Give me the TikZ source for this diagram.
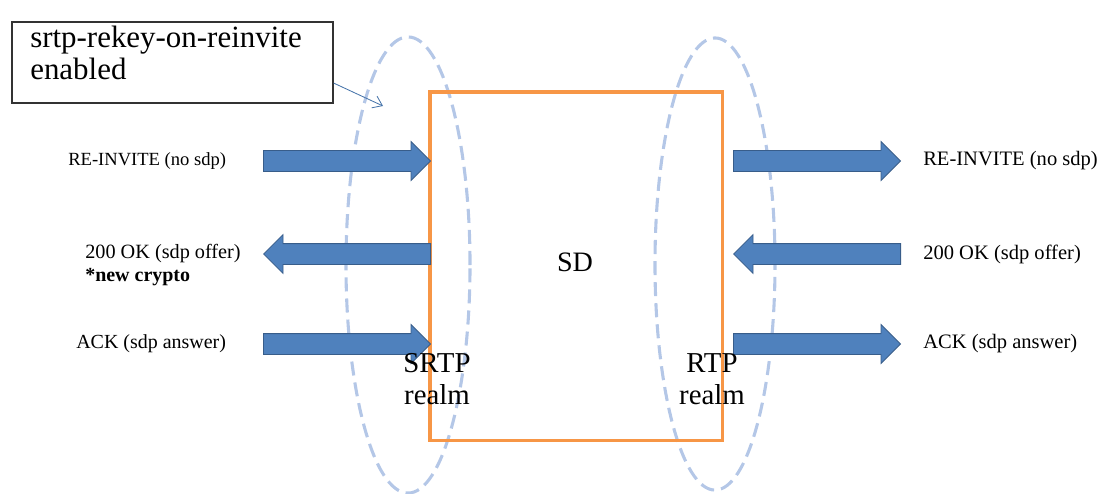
\documentclass[tikz,border=0pt]{standalone}
\usepackage{fontspec}
\setmainfont{Liberation Serif}
\usetikzlibrary{shapes.arrows,arrows.meta,calc}
\definecolor{realmblue}{RGB}{180,199,231}
\definecolor{sdorange}{RGB}{247,150,70}
\definecolor{msgfill}{RGB}{79,129,189}
\definecolor{msgedge}{RGB}{56,93,138}
\tikzset{
  msg/.style={single arrow,fill=msgfill,draw=msgedge,line width=0.6pt,
    inner xsep=0pt,inner ysep=0.25cm,text height=0pt,text depth=0pt,
    single arrow head extend=0.225cm,single arrow tip angle=90,minimum height=4.175cm},
  msgright/.style={msg,anchor=tail},
  msgleft/.style={msg,shape border rotate=180,anchor=tip},
  msglabel/.style={anchor=west,inner sep=0pt},
  realm/.style={draw=realmblue,line width=2.2pt,dash pattern=on 10pt off 5pt},
  realmlabel/.style={align=center,font=\fontsize{20.5}{23}\selectfont,inner sep=0pt}
}
\begin{document}
\begin{tikzpicture}[x=0.025cm,y=-0.025cm]
  \useasboundingbox (0,0) rectangle (1104,493);
  % realms
  \draw[realm] (408,265) ellipse (1.55cm and 5.7cm);
  \draw[realm] (715,264) ellipse (1.5cm and 5.65cm);
  % the SD box
  \node[draw=sdorange,line width=2.2pt,minimum width=7.3cm,minimum height=8.7cm] (sd) at (576,266) {};
  \node[font=\fontsize{20}{24}\selectfont] (sdtxt) at (575,262) {SD};
  % note
  \node[draw=black!80,line width=0.9pt,minimum width=8.025cm,minimum height=2.025cm] (note) at (172.5,62.5) {};
  \node[anchor=north west,align=left,inner sep=0pt,font=\fontsize{22}{22.5}\selectfont] (notetxt) at (30,26)
    {srtp-rekey-on-reinvite\\enabled};
  \coordinate (notetip) at (383,106);
  \draw[msgfill!90!black,line width=0.6pt,-{Straight Barb[length=2.2mm,width=3.2mm]}]
    ($(note.south east)!0.25!(note.north east)$) -- (notetip);
  % messages, SRTP side
  \node[msgright] (inv1) at (263,161) {};
  \node[msgleft] (ok1) at (263,254) {};
  \node[msgright] (ack1) at (263,344) {};
  \node[msglabel,font=\fontsize{13.2}{15}\selectfont] (inv1txt) at (68,161) {RE-INVITE (no sdp)};
  \node[msglabel,font=\fontsize{14.4}{15}\selectfont] (ok1txt) at (85,254) {200 OK (sdp offer)};
  \node[msglabel,font=\fontsize{14.2}{15}\selectfont\bfseries] (crypto) at (85,277) {*new crypto};
  \node[msglabel,font=\fontsize{14.2}{15}\selectfont] (ack1txt) at (76,344) {ACK (sdp answer)};
  % messages, RTP side
  \node[msgright] (inv2) at (733,161) {};
  \node[msgleft] (ok2) at (733,254) {};
  \node[msgright] (ack2) at (733,344) {};
  \node[msglabel,font=\fontsize{14.6}{15}\selectfont] (inv2txt) at (923,161) {RE-INVITE (no sdp)};
  \node[msglabel,font=\fontsize{14.6}{15}\selectfont] (ok2txt) at (923,254) {200 OK (sdp offer)};
  \node[msglabel,font=\fontsize{14.6}{15}\selectfont] (ack2txt) at (923,344) {ACK (sdp answer)};
  % realm names
  \node[realmlabel] (srtp) at (437,379) {SRTP\\realm};
  \node[realmlabel] (rtp) at (712,379) {RTP\\realm};
\end{tikzpicture}
\end{document}
